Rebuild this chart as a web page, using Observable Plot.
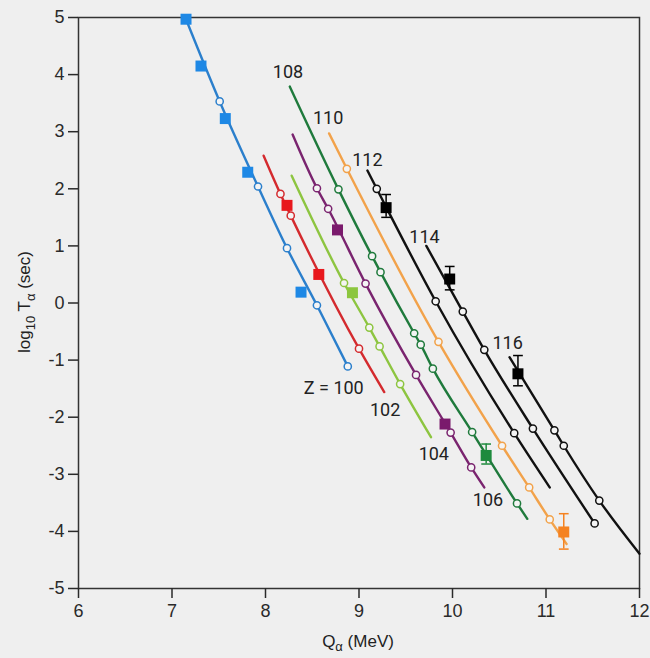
<!DOCTYPE html>
<html><head><meta charset="utf-8">
<script src="https://cdn.jsdelivr.net/npm/d3@7"></script>
<script src="https://cdn.jsdelivr.net/npm/@observablehq/plot@0.6"></script>
<style>
html,body{margin:0;padding:0;background:#efefef;}
#chart{width:650px;height:658px;}
</style></head><body><div id="chart"></div>
<script>
// ---- data ----
const xTicks = [6, 7, 8, 9, 10, 11, 12];
const yTicks = [-5, -4, -3, -2, -1, 0, 1, 2, 3, 4, 5];

const Z = [100, 102, 104, 106, 108, 110, 112, 114, 116];
const lineColor = ["#2b7fcc", "#d42a2e", "#8dc540", "#7a246f", "#1f7a3c", "#f2a24a", "#111111", "#111111", "#111111"];
const markColor = ["#1e88e5", "#e8181d", "#8cc63f", "#7a1a6c", "#1e8a3d", "#f58220", "#000000", "#000000", "#000000"];

// theory line start / end points [Q, logT]
const lineStart = [[7.15, 4.97], [7.98, 2.58], [8.28, 2.23], [8.29, 2.95], [8.26, 3.79], [8.68, 2.97], [9.09, 2.32], [9.72, 1.00], [10.61, -0.95]];
const lineEnd   = [[8.88, -1.11], [9.27, -1.56], [9.77, -2.35], [10.34, -3.23], [10.80, -3.78], [11.22, -4.22], [11.04, -3.23], [11.52, -3.86], [12.0, -4.39]];

// calculated (open circles)
const calc100 = [[7.51, 3.53], [7.92, 2.04], [8.23, 0.96], [8.55, -0.04], [8.88, -1.11]];
const calc102 = [[8.16, 1.91], [8.27, 1.53], [9.00, -0.80]];
const calc104 = [[8.84, 0.35], [9.11, -0.43], [9.22, -0.76], [9.44, -1.42]];
const calc106 = [[8.55, 2.01], [8.67, 1.65], [9.07, 0.34], [9.61, -1.26], [9.98, -2.27], [10.20, -2.88]];
const calc108 = [[8.78, 1.99], [9.14, 0.82], [9.23, 0.54], [9.59, -0.53], [9.66, -0.73], [9.79, -1.15], [10.21, -2.26], [10.69, -3.51]];
const calc110 = [[8.87, 2.35], [9.85, -0.68], [10.53, -2.50], [10.82, -3.23], [11.04, -3.79]];
const calc112 = [[9.19, 2.00], [9.82, 0.03], [10.66, -2.28]];
const calc114 = [[10.11, -0.15], [10.34, -0.82], [10.86, -2.20], [11.52, -3.86]];
const calc116 = [[11.09, -2.23], [11.19, -2.50], [11.57, -3.46]];

// experimental (filled squares)
const exp100 = [[7.15, 4.97], [7.31, 4.15], [7.57, 3.23], [7.81, 2.29], [8.38, 0.19]];
const exp102 = [[8.23, 1.71], [8.57, 0.50]];
const exp104 = [[8.93, 0.18]];
const exp106 = [[8.77, 1.28], [9.92, -2.12]];
const exp108 = [[10.36, -2.67]];
const exp110 = [[11.19, -4.01]];
const exp112 = [[9.29, 1.67]];
const exp114 = [[9.97, 0.42]];
const exp116 = [[10.70, -1.24]];

// error bars
const errZ  = [108, 110, 112, 114, 116];
const errQ  = [10.36, 11.19, 9.29, 9.97, 10.70];
const errHi = [-2.47, -3.69, 1.90, 0.64, -0.92];
const errLo = [-2.82, -4.31, 1.50, 0.23, -1.45];

// curve labels
const labelText = ["Z = 100", "102", "104", "106", "108", "110", "112", "114", "116"];
const labelQ = [8.73, 9.28, 9.80, 10.38, 8.24, 8.67, 9.09, 9.70, 10.59];
const labelT = [-1.50, -1.88, -2.65, -3.46, 4.04, 3.23, 2.50, 1.15, -0.71];

// ---- tables ----
const calcAll = [calc100, calc102, calc104, calc106, calc108, calc110, calc112, calc114, calc116];
const expAll = [exp100, exp102, exp104, exp106, exp108, exp110, exp112, exp114, exp116];

const lineRows = [], calcRows = [], expRows = [];
Z.forEach((z, i) => {
  const pts = [lineStart[i], ...calcAll[i], lineEnd[i]].sort((a, b) => a[0] - b[0]);
  const seen = new Set();
  pts.forEach(p => {
    const k = p[0].toFixed(3);
    if (!seen.has(k)) { seen.add(k); lineRows.push({z, q: p[0], t: p[1], color: lineColor[i]}); }
  });
  calcAll[i].forEach(p => calcRows.push({z, q: p[0], t: p[1], color: lineColor[i]}));
  expAll[i].forEach(p => expRows.push({z, q: p[0], t: p[1], color: markColor[i]}));
});
const errRows = errZ.map((z, i) => ({z, q: errQ[i], hi: errHi[i], lo: errLo[i], color: markColor[Z.indexOf(z)]}));
const capRows = errRows.flatMap(d => [{q: d.q, t: d.hi, color: d.color}, {q: d.q, t: d.lo, color: d.color}]);
const labelRows = labelText.map((s, i) => ({s, q: labelQ[i], t: labelT[i]}));

const capSymbol = {
  draw(context, size) {
    const w = Math.sqrt(size) / 2;
    context.moveTo(-w, 0);
    context.lineTo(w, 0);
  }
};

const fmt = d => String(d);

const plot = Plot.plot({
  width: 650,
  height: 658,
  marginLeft: 78,
  marginRight: 11,
  marginTop: 17,
  marginBottom: 70,
  style: {background: "#efefef", fontFamily: "'Liberation Sans', Arial, sans-serif", color: "#2a2a2a", overflow: "visible"},
  x: {domain: [6, 12]},
  y: {domain: [-5, 5]},
  color: {type: "identity"},
  marks: [
    Plot.frame({stroke: "#333", strokeWidth: 1.5}),
    Plot.axisX({ticks: xTicks, tickFormat: fmt, tickSize: 10, tickPadding: 6, fontSize: 18, label: null, strokeWidth: 1.5}),
    Plot.axisY({ticks: yTicks, tickFormat: fmt, tickSize: 10, tickPadding: 4, fontSize: 18, label: null, strokeWidth: 1.5}),
    Plot.line(lineRows, {x: "q", y: "t", z: "z", stroke: "color", strokeWidth: 2.4, curve: "monotone-x"}),
    Plot.ruleX(errRows, {x: "q", y1: "lo", y2: "hi", stroke: "color", strokeWidth: 1.5}),
    Plot.dot(capRows, {x: "q", y: "t", stroke: "color", symbol: capSymbol, r: 5.5, strokeWidth: 1.5, fill: "none"}),
    Plot.dot(expRows, {x: "q", y: "t", fill: "color", symbol: "square", r: 6.2}),
    Plot.dot(calcRows, {x: "q", y: "t", stroke: "color", fill: "#f4f4f4", r: 3.6, strokeWidth: 1.5}),
    Plot.text(labelRows, {x: "q", y: "t", text: "s", fontSize: 18, fill: "#222", fontFamily: "Roboto, 'Liberation Sans', sans-serif"})
  ]
});

document.getElementById("chart").appendChild(plot);

const svg = d3.select(plot);
// x axis label
const xl = svg.append("text")
  .attr("x", 358).attr("y", 647)
  .attr("text-anchor", "middle")
  .attr("font-size", 17)
  .attr("fill", "#222")
  .attr("font-family", "'Liberation Sans', Arial, sans-serif");
xl.append("tspan").text("Q");
xl.append("tspan").attr("dy", 4).attr("font-size", 13).text("α");
xl.append("tspan").attr("dy", -4).text(" (MeV)");

// y axis label
const yl = svg.append("text")
  .attr("transform", "translate(30,302) rotate(-90)")
  .attr("text-anchor", "middle")
  .attr("font-size", 17)
  .attr("fill", "#222")
  .attr("font-family", "'Liberation Sans', Arial, sans-serif");
yl.append("tspan").text("log");
yl.append("tspan").attr("dy", 5).attr("font-size", 13).text("10");
yl.append("tspan").attr("dy", -5).text(" T");
yl.append("tspan").attr("dy", 5).attr("font-size", 13).text("α");
yl.append("tspan").attr("dy", -5).text(" (sec)");
</script></body></html>
